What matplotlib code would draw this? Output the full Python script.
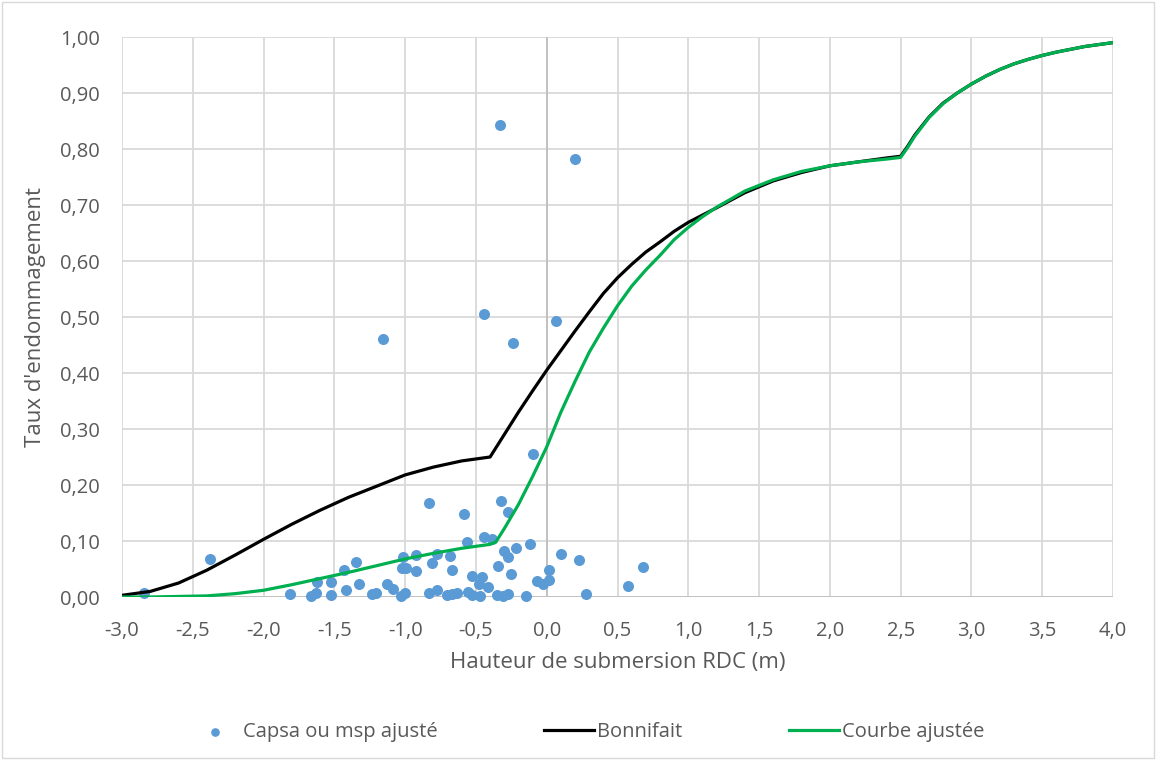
import matplotlib.pyplot as plt
from matplotlib.ticker import FixedLocator, FuncFormatter
from matplotlib.patches import Rectangle

# observations: hauteur (m) / taux d'endommagement
obs_h = [-2.845, -2.378, -1.81, -1.667, -1.63, -1.62, -1.526, -1.526, -1.432, -1.347,
         -1.418, -1.324, -1.234, -1.206, -1.13, -1.088, -1.03, -1.0, -1.013, -1.025,
         -0.994, -0.923, -0.923, -0.094, -0.83, -0.584, -0.325, -0.27, -0.565, -0.44,
         -0.39, -0.118, 0.099, 0.23, 0.683, 0.574, 0.28, -0.22, -0.30, -0.27,
         -0.342, -0.253, 0.018, -0.07, -0.024, 0.018, -0.146, -0.353, -0.306, -0.27,
         -0.413, -0.476, -0.459, -0.53, -0.554, -0.53, -0.47, -0.671, -0.683, -0.812,
         -0.777, -0.83, -0.777, -0.706, -0.671, -0.636, -0.33, 0.2, -1.154, -0.441,
         -0.235, 0.066]
obs_taux = [0.008, 0.068, 0.005, 0.002, 0.008, 0.026, 0.026, 0.004, 0.048, 0.063,
            0.013, 0.023, 0.005, 0.007, 0.024, 0.014, 0.001, 0.007, 0.072, 0.052,
            0.051, 0.046, 0.075, 0.255, 0.167, 0.149, 0.171, 0.151, 0.099, 0.107,
            0.104, 0.095, 0.077, 0.066, 0.054, 0.020, 0.005, 0.088, 0.082, 0.072,
            0.056, 0.041, 0.048, 0.029, 0.024, 0.030, 0.002, 0.004, 0.002, 0.005,
            0.017, 0.023, 0.036, 0.038, 0.009, 0.004, 0.002, 0.048, 0.073, 0.060,
            0.076, 0.007, 0.012, 0.004, 0.005, 0.007, 0.843, 0.782, 0.460, 0.505,
            0.453, 0.492]

# courbe Bonnifait
bon_h = [-3.0, -2.8, -2.6, -2.4, -2.2, -2.0, -1.8, -1.6, -1.4, -1.2, -1.0, -0.8, -0.6,
         -0.4, -0.3, -0.2, -0.1, 0.0, 0.1, 0.2, 0.3, 0.4, 0.5, 0.6, 0.7, 0.8, 0.9, 1.0,
         1.2, 1.4, 1.6, 1.8, 2.0, 2.2, 2.4, 2.5, 2.55, 2.6, 2.7, 2.8, 2.9, 3.0, 3.1,
         3.2, 3.3, 3.4, 3.5, 3.6, 3.8, 4.0]
bon_taux = [0.003, 0.010, 0.025, 0.048, 0.075, 0.103, 0.130, 0.155, 0.178, 0.198, 0.218,
            0.232, 0.243, 0.250, 0.290, 0.330, 0.368, 0.405, 0.440, 0.475, 0.509, 0.542,
            0.570, 0.594, 0.616, 0.634, 0.653, 0.669, 0.695, 0.722, 0.743, 0.758, 0.770,
            0.777, 0.784, 0.787, 0.805, 0.825, 0.857, 0.882, 0.900, 0.916, 0.930, 0.942,
            0.952, 0.960, 0.967, 0.973, 0.983, 0.990]

# courbe ajustée
adj_h = [-3.0, -2.8, -2.6, -2.4, -2.2, -2.0, -1.8, -1.6, -1.4, -1.2, -1.0, -0.8, -0.6,
         -0.4, -0.36, -0.3, -0.2, -0.1, 0.0, 0.1, 0.2, 0.3, 0.4, 0.5, 0.6, 0.7, 0.8,
         0.9, 1.0, 1.1, 1.2, 1.4, 1.6, 1.8, 2.0, 2.2, 2.4, 2.5, 2.55, 2.6, 2.7, 2.8,
         2.9, 3.0, 3.1, 3.2, 3.3, 3.4, 3.5, 3.6, 3.8, 4.0]
adj_taux = [0.000, 0.000, 0.001, 0.002, 0.006, 0.012, 0.022, 0.033, 0.044, 0.056, 0.068,
            0.078, 0.087, 0.094, 0.098, 0.122, 0.165, 0.215, 0.268, 0.330, 0.385, 0.437,
            0.480, 0.520, 0.555, 0.584, 0.610, 0.638, 0.660, 0.679, 0.696, 0.725, 0.745,
            0.760, 0.770, 0.777, 0.782, 0.785, 0.803, 0.823, 0.856, 0.881, 0.900, 0.916,
            0.930, 0.942, 0.952, 0.960, 0.967, 0.973, 0.983, 0.990]

x_ticks = [-3.0, -2.5, -2.0, -1.5, -1.0, -0.5, 0.0, 0.5, 1.0, 1.5, 2.0, 2.5, 3.0, 3.5, 4.0]
y_ticks = [0.0, 0.1, 0.2, 0.3, 0.4, 0.5, 0.6, 0.7, 0.8, 0.9, 1.0]

plt.rcParams['font.family'] = ['Open Sans', 'DejaVu Sans']
gris = '#595959'

fig = plt.figure(figsize=(11.56, 7.6), dpi=100)
ax = fig.add_axes([122 / 1156, 1 - 597 / 760, (1113 - 122) / 1156, (597 - 37) / 760])

ax.set_xlim(-3.0, 4.0)
ax.set_ylim(0.0, 1.0)
ax.xaxis.set_major_locator(FixedLocator(x_ticks))
ax.yaxis.set_major_locator(FixedLocator(y_ticks))
ax.xaxis.set_major_formatter(FuncFormatter(lambda v, p: f'{v:.1f}'.replace('.', ',')))
ax.yaxis.set_major_formatter(FuncFormatter(lambda v, p: f'{v:.2f}'.replace('.', ',')))
ax.grid(True, color='#d9d9d9', linewidth=1.3, zorder=0)
ax.set_axisbelow(True)
for s in ax.spines.values():
    s.set_visible(False)
ax.axhline(0, color='#bfbfbf', linewidth=1.3, zorder=1)
ax.axvline(0, color='#bfbfbf', linewidth=1.3, zorder=1)
ax.tick_params(length=0, labelsize=14.5, colors=gris)
ax.tick_params(axis='x', pad=17)
ax.tick_params(axis='y', pad=16)

ax.scatter(obs_h, obs_taux, s=48, color='#5b9bd5', zorder=3, clip_on=False,
           label='Capsa ou msp ajusté')
ax.plot(bon_h, bon_taux, color='black', linewidth=2.3, zorder=4, label='Bonnifait')
ax.plot(adj_h, adj_taux, color='#00b050', linewidth=2.3, zorder=5, label='Courbe ajustée')

ax.set_xlabel('Hauteur de submersion RDC (m)', fontsize=16, color=gris, labelpad=8)
ax.set_ylabel("Taux d'endommagement", fontsize=16, color=gris, labelpad=10)

fig.legend(loc='center', bbox_to_anchor=(587 / 1156, 1 - 732 / 760), ncol=3, frameon=False,
           fontsize=14.5, labelcolor=gris, columnspacing=5.3, handlelength=2.5,
           handletextpad=0.12, markerscale=0.75)

fig.patches.append(Rectangle((0.002, 0.002), 0.996, 0.996, transform=fig.transFigure,
                             fill=False, edgecolor='#d9d9d9', linewidth=1))

fig.savefig('out.png', dpi=100)
